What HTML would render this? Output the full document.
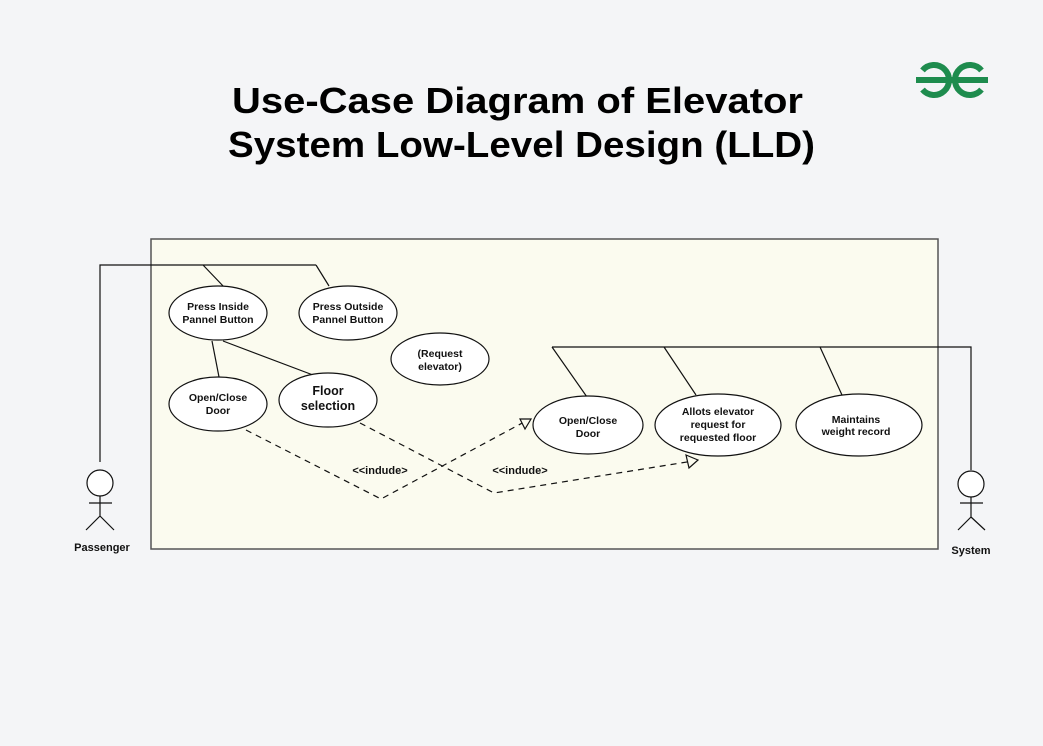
<!DOCTYPE html>
<html><head><style>
body{margin:0;background:#f4f5f7;}
svg{display:block;font-family:"Liberation Sans",sans-serif;}
</style></head><body>
<svg width="1043" height="746" viewBox="0 0 1043 746">
<rect width="1043" height="746" fill="#f4f5f7"/>
<text x="232" y="113" textLength="571" lengthAdjust="spacingAndGlyphs" font-size="36" font-weight="bold" fill="#000">Use-Case Diagram of Elevator</text>
<text x="228" y="157" textLength="587" lengthAdjust="spacingAndGlyphs" font-size="36" font-weight="bold" fill="#000">System Low-Level Design (LLD)</text>
<g fill="none" stroke="#1e8c4e" stroke-width="6">
<path d="M922.5 70.4 A15 15 0 1 1 922.5 89.6 M916 80 H953"/>
<path d="M981.5 70.4 A15 15 0 1 0 981.5 89.6 M951 80 H988"/>
</g>
<rect x="151" y="239" width="787" height="310" fill="#fbfbef" stroke="#555" stroke-width="1.5"/>
<g stroke="#111" stroke-width="1.2" fill="none">
<path d="M100 462 V265 H316 M203 265 L225 288 M316 265 L329 286"/>
<path d="M212 341 L219 377 M223 341 L313 375"/>
<path d="M971 470 V347 H552 M552 347 L587 397 M664 347 L696 395 M820 347 L842 395"/>
<g stroke-dasharray="6,5">
<path d="M246 430 L381 499 L526 421"/>
<path d="M360 423 L494 493 L693 461"/>
</g>
<path d="M520 419 L531 419 L525 429 Z" fill="#fbfbef"/>
<path d="M686 455 L698 460 L689 468 Z" fill="#fbfbef"/>
</g>
<g fill="#fff" stroke="#111" stroke-width="1.2">
<ellipse cx="218" cy="313" rx="49" ry="27"/>
<ellipse cx="348" cy="313" rx="49" ry="27"/>
<ellipse cx="440" cy="359" rx="49" ry="26"/>
<ellipse cx="218" cy="404" rx="49" ry="27"/>
<ellipse cx="328" cy="400" rx="49" ry="27"/>
<ellipse cx="588" cy="425" rx="55" ry="29"/>
<ellipse cx="718" cy="425" rx="63" ry="31"/>
<ellipse cx="859" cy="425" rx="63" ry="31"/>
</g>
<g font-size="10.5" font-weight="bold" text-anchor="middle" fill="#111">
<text x="218" y="310">Press Inside</text><text x="218" y="323">Pannel Button</text>
<text x="348" y="310">Press Outside</text><text x="348" y="323">Pannel Button</text>
<text x="440" y="357">(Request</text><text x="440" y="370">elevator)</text>
<text x="218" y="401">Open/Close</text><text x="218" y="414">Door</text>
<text x="328" y="395" font-size="12.5">Floor</text><text x="328" y="410" font-size="12.5">selection</text>
<text x="588" y="424">Open/Close</text><text x="588" y="437">Door</text>
<text x="718" y="415">Allots elevator</text><text x="718" y="428">request for</text><text x="718" y="441">requested floor</text>
<text x="856" y="423">Maintains</text><text x="856" y="435">weight record</text>
<text x="380" y="474" font-size="11">&lt;&lt;indude&gt;</text>
<text x="520" y="474" font-size="11">&lt;&lt;indude&gt;</text>
<text x="102" y="551" font-size="11">Passenger</text>
<text x="971" y="554" font-size="11">System</text>
</g>
<g stroke="#111" stroke-width="1.2" fill="#fff">
<circle cx="100" cy="483" r="13"/>
<path d="M100 496 V516 M89 503 H112 M100 516 L86 530 M100 516 L114 530" fill="none"/>
<circle cx="971" cy="484" r="13"/>
<path d="M971 497 V517 M960 503 H983 M971 517 L958 530 M971 517 L985 530" fill="none"/>
</g>
</svg>
</body></html>
